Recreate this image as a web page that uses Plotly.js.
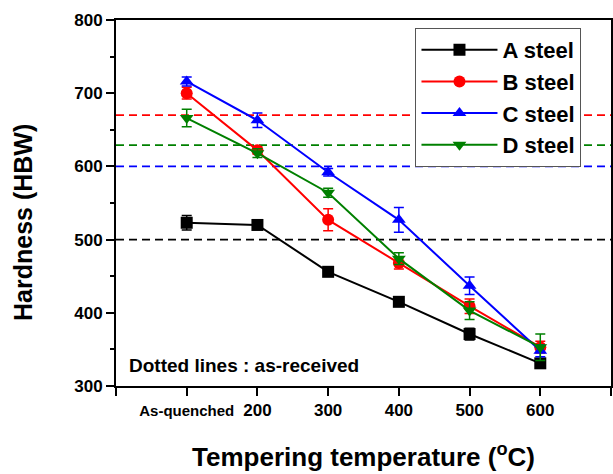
<!DOCTYPE html>
<html><head><meta charset="utf-8">
<script src="https://cdn.plot.ly/plotly-3.0.1.min.js"></script>
<style>html,body{margin:0;padding:0;background:#fff}#c{width:613px;height:474px}</style>
</head><body><div id="c"></div>
<script>
const temps = [100, 200, 300, 400, 500, 600];
const tickLabels = ['As-quenched', '200', '300', '400', '500', '600'];
const seriesNames = ['A steel', 'B steel', 'C steel', 'D steel'];
const aSteel = [523, 520, 456, 415, 371, 331];
const bSteel = [700, 622, 527, 468, 409, 353];
const cSteel = [716, 663, 592, 527, 437, 348];
const dSteel = [666, 618, 564, 474, 403, 353];
const aErr = [10, 5, 5, 5, 8, 5];
const bErr = [8, 5, 15, 8, 10, 8];
const cErr = [6, 10, 5, 17, 12, 8];
const dErr = [12, 6, 6, 8, 12, 18];
const asReceived = [500, 670, 600, 629];

const colors = ['#000000', '#ff0000', '#0000ff', '#008000'];
const symbols = ['square', 'circle', 'triangle-up', 'triangle-down'];
const values = [aSteel, bSteel, cSteel, dSteel];
const errs = [aErr, bErr, cErr, dErr];

const traces = values.map((v, i) => ({
  x: temps, y: v, name: seriesNames[i], type: 'scatter', mode: 'lines+markers',
  line: {color: colors[i], width: 2},
  marker: {color: colors[i], symbol: symbols[i], size: 12},
  error_y: {type: 'data', array: errs[i], visible: true, color: colors[i], thickness: 1.5, width: 5}
}));

const shapes = asReceived.map((v, i) => ({
  type: 'line', xref: 'paper', x0: 0, x1: 1, yref: 'y', y0: v, y1: v,
  line: {color: colors[i], width: 1.8, dash: '8px,5px'}, layer: 'below'
}));

const fontFam = 'Arial, "Liberation Sans", sans-serif';
const ticklabelsHtml = tickLabels.map(t => t === 'As-quenched' ? '<span style="font-size:15px">' + t + '</span>' : t);

const layout = {
  width: 613, height: 474,
  margin: {l: 116, r: 2, t: 20, b: 88},
  paper_bgcolor: '#fff', plot_bgcolor: '#fff',
  font: {family: fontFam, color: '#000'},
  showlegend: true,
  legend: {x: 0.605, y: 0.978, xanchor: 'left', yanchor: 'top',
    bordercolor: '#555', borderwidth: 1, bgcolor: '#fff',
    font: {family: fontFam, size: 22, weight: 'bold', color: '#000'},
    itemwidth: 76},
  xaxis: {range: [0, 700], tickmode: 'array', tickvals: temps, ticktext: ticklabelsHtml,
    ticks: 'outside', ticklen: 8, tickwidth: 2, tickcolor: '#000',
    minor: {tick0: 0, dtick: 100, ticks: 'outside', ticklen: 8, tickwidth: 2, tickcolor: '#000'},
    showline: true, linewidth: 2, linecolor: '#000', mirror: true, showgrid: false, zeroline: false,
    tickfont: {family: fontFam, size: 17, weight: 'bold'},
    title: {text: 'Tempering temperature (<sup>o</sup>C)', font: {family: fontFam, size: 26, weight: 'bold'}, standoff: 28}},
  yaxis: {range: [300, 800], tickmode: 'linear', tick0: 300, dtick: 100,
    ticks: 'outside', ticklen: 8, tickwidth: 2, tickcolor: '#000',
    minor: {dtick: 50, ticks: 'outside', ticklen: 4, tickwidth: 2, tickcolor: '#000'},
    showline: true, linewidth: 2, linecolor: '#000', mirror: true, showgrid: false, zeroline: false,
    tickfont: {family: fontFam, size: 17, weight: 'bold'}},
  shapes: shapes,
  annotations: [
    {xref: 'paper', yref: 'paper', x: 0.022, y: 0.057, xanchor: 'left', yanchor: 'middle',
     text: 'Dotted lines : as-received', showarrow: false,
     font: {family: fontFam, size: 19, weight: 'bold', color: '#000'}},
    {xref: 'paper', yref: 'paper', x: -0.188, y: 0.448, xanchor: 'center', yanchor: 'middle',
     text: 'Hardness (HBW)', textangle: -90, showarrow: false,
     font: {family: fontFam, size: 25, weight: 'bold', color: '#000'}}
  ]
};

Plotly.newPlot('c', traces, layout, {displayModeBar: false, staticPlot: true});
</script></body></html>
